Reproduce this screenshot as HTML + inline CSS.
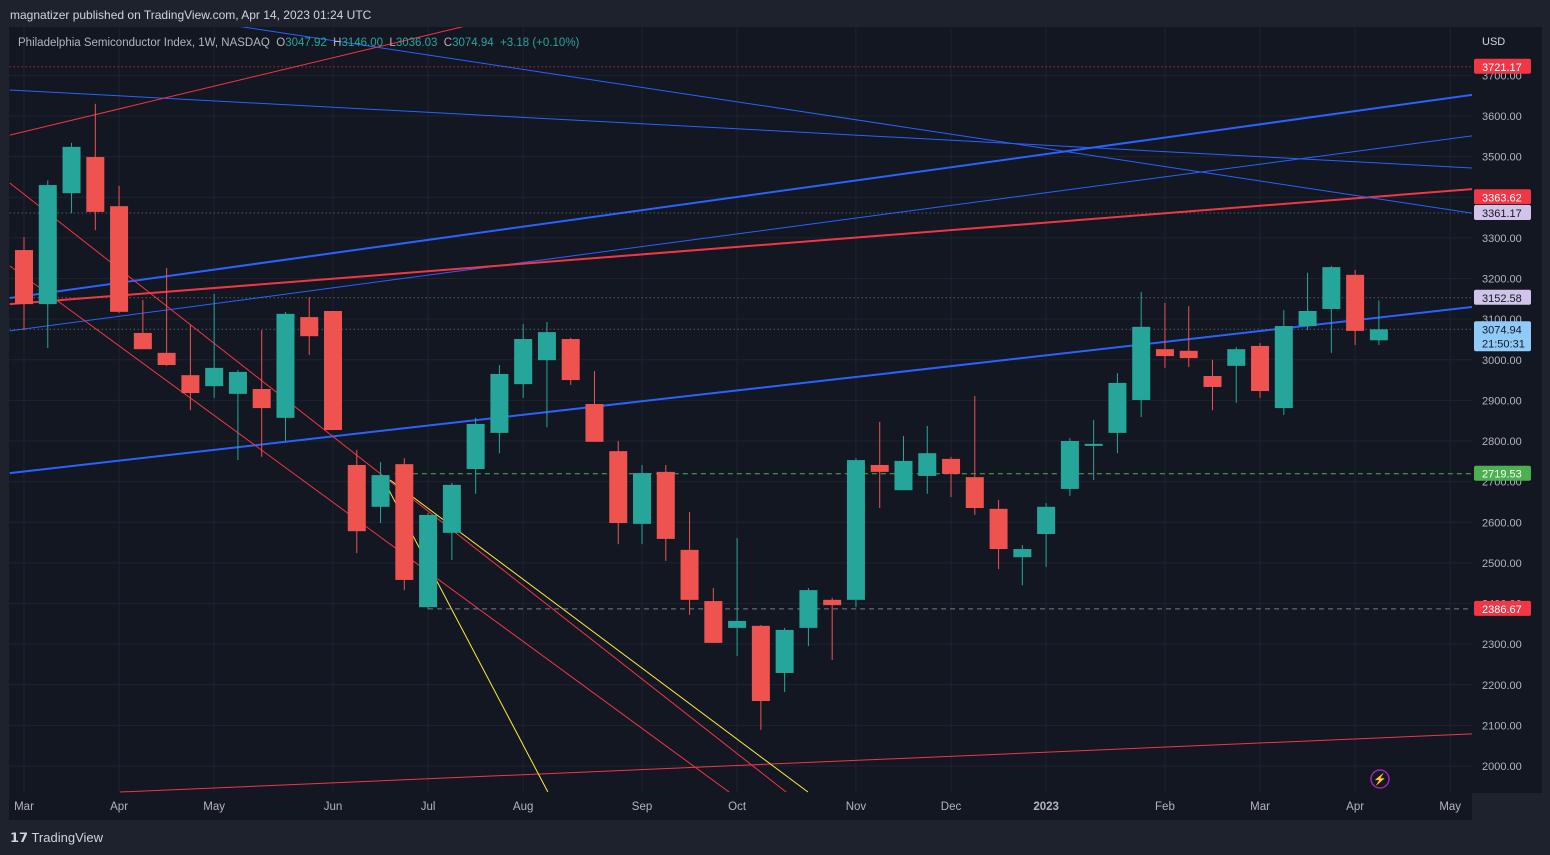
<!DOCTYPE html>
<html><head><meta charset="utf-8"><style>
body{margin:0;width:1550px;height:855px;background:#1e222d;overflow:hidden;font-family:"Liberation Sans",sans-serif}
svg{position:absolute;left:0;top:0}
</style></head><body>
<svg id="c" width="1550" height="855">
<rect x="0" y="0" width="1550" height="855" fill="#1e222d"/>
<rect x="9" y="27" width="1463" height="766" fill="#131722"/>
<rect x="1472" y="27" width="70" height="766" fill="#131722"/>
<rect x="9" y="793" width="1463" height="27" fill="#131722"/>
<g id="grid"></g><g id="draw"></g><g id="candles"></g><g id="labels"></g>
<text x="10" y="19" fill="#d1d4dc" font-size="12">magnatizer published on TradingView.com, Apr 14, 2023 01:24 UTC</text>
<text x="18" y="46" font-size="11.5" fill="#b2b5be" xml:space="preserve">Philadelphia Semiconductor Index, 1W, NASDAQ  O<tspan fill="#26a69a">3047.92</tspan>  H<tspan fill="#26a69a">3146.00</tspan>  L<tspan fill="#26a69a">3036.03</tspan>  C<tspan fill="#26a69a">3074.94</tspan>  <tspan fill="#26a69a">+3.18 (+0.10%)</tspan></text>
<text x="1482" y="45" font-size="11" fill="#d1d4dc">USD</text>
<text x="10" y="842" font-size="13" fill="#d1d4dc">𝟭𝟳 TradingView</text>
<circle cx="1380" cy="779" r="9" fill="none" stroke="#9c27b0" stroke-width="1.5"/>
<text x="1380" y="783" font-size="11" fill="#9c27b0" text-anchor="middle">⚡</text>
</svg>
<script>
const opens=[3270,3137,3410,3499,3378,3066,3017,2962,2935,2916,2928,2857,3105,3120,2741,2638,2743,2391,2574,2731,2820,2940,2999,3051,2891,2775,2596,2724,2532,2406,2340,2345,2229,2340,2409,2409,2741,2679,2714,2756,2711,2633,2514,2571,2682,2788,2820,2901,3026,3022,2960,2985,3034,2881,3083,3125,3209,3047.92];
const highs=[3302,3442,3534,3630,3428,3147,3226,3086,3162,2975,3073,3118,3154,3120,2778,2748,2758,2623,2697,2857,2987,3088,3093,3054,2972,2800,2741,2741,2625,2438,2561,2347,2340,2438,2414,2758,2847,2812,2837,2761,2911,2655,2544,2647,2807,2852,2967,3167,3140,3132,3000,3031,3041,3122,3214,3231,3221,3146];
const lows=[3073,3029,3361,3319,3115,3026,2985,2876,2906,2753,2761,2800,3012,2827,2524,2598,2433,2386,2507,2670,2770,2906,2834,2938,2798,2546,2546,2505,2372,2303,2271,2089,2182,2295,2261,2391,2635,2679,2670,2662,2618,2485,2445,2490,2665,2704,2770,2859,2980,2982,2876,2894,2906,2864,3073,3017,3036,3036.03];
const closes=[3137,3430,3524,3364,3118,3026,2987,2918,2980,2970,2881,3113,3058,2827,2578,2716,2458,2618,2692,2842,2965,3051,3068,2950,2798,2598,2721,2559,2409,2303,2357,2160,2335,2433,2396,2753,2724,2751,2770,2719,2635,2534,2534,2638,2800,2793,2943,3081,3009,3004,2933,3026,2923,3083,3120,3228,3071,3074.94];
const priceTicks=[2000,2100,2200,2300,2400,2500,2600,2700,2800,2900,3000,3100,3200,3300,3400,3500,3600,3700];
const monthLabels=["Mar","Apr","May","Jun","Jul","Aug","Sep","Oct","Nov","Dec","2023","Feb","Mar","Apr","May"];
const monthIdx=[0,4,8,13,17,21,26,30,35,39,43,48,52,56,60];
const NS="http://www.w3.org/2000/svg";
const X=i=>24+i*23.77, Y=p=>116+(3600-p)*0.40625;
function mk(parent,tag,attrs){const e=document.createElementNS(NS,tag);for(const k in attrs)e.setAttribute(k,attrs[k]);document.getElementById(parent).appendChild(e);return e;}
priceTicks.forEach(p=>{
 const l=mk('grid','line',{x1:9,x2:1472,y1:Y(p),y2:Y(p),stroke:'#1f2330'});
 
 
 const t=mk('labels','text',{x:1482,y:Y(p)+4,'font-size':11,fill:'#b2b5be'});t.textContent=p.toFixed(2);
 
 
});
monthLabels.forEach((m,k)=>{
 const x=X(monthIdx[k]);
 const l=mk('grid','line',{x1:x,x2:x,y1:27,y2:793,stroke:'#1f2330'});
 
 
 const t=mk('labels','text',{x:x,y:810,'font-size':11.5,fill:'#b2b5be','text-anchor':'middle','font-weight':m==='2023'?'bold':'normal'});t.textContent=m;
 
 
});
// drawings: [idx1,price1,idx2,price2,color,width]
const drawings=[
[-0.6,3152,60.92,3652,'#2962ff',2],[-0.6,3071,60.92,3551,'#2962ff',1],
[-0.6,3137,60.92,3420,'#f23645',2],[-0.6,3664,60.92,3472,'#2962ff',1],
[8.67,3824,60.92,3361,'#2962ff',1],[-0.6,2721,60.92,3130,'#2962ff',2],
[-0.6,3553,18.76,3824,'#f23645',1],[4.04,1936,60.92,2079,'#f23645',1],
[-0.6,3435,32.06,1936,'#f23645',1],[-0.6,3231,29.66,1936,'#f23645',1],
[15.02,2716,22.04,1936,'#ffeb3b',1],[15.4,2704,32.98,1936,'#ffeb3b',1]];
const svg=document.getElementById('c');
const cp=document.createElementNS(NS,'clipPath');cp.setAttribute('id','cl');
const r=document.createElementNS(NS,'rect');r.setAttribute('x',9);r.setAttribute('y',27);r.setAttribute('width',1463);r.setAttribute('height',766);cp.appendChild(r);svg.appendChild(cp);
document.getElementById('draw').setAttribute('clip-path','url(#cl)');
drawings.forEach(d=>{
 const l=mk('draw','line',{x1:X(d[0]),y1:Y(d[1]),x2:X(d[2]),y2:Y(d[3]),stroke:d[4],'stroke-width':d[5]});
 
 
});
// levels: [price,startIdx,color,dash,labelBg,labelColor,labelPrice]
const levels=[[3721.17,-0.6,'#f23645','1,3','#f23645','#fff',3721.17],[3363.62,null,null,null,'#f23645','#fff',3400],[3361.17,-0.6,'#787b86','1,3','#d1c4e9','#131722',3361.17],[3152.58,-0.6,'#787b86','1,3','#d1c4e9','#131722',3152.58],[3074.94,-0.6,'#787b86','1,3','#90caf9','#131722',3074.94],[2719.53,15.6,'#4caf50','5,4','#4caf50','#fff',2719.53],[2386.67,17,'#787b86','5,4','#f23645','#fff',2386.67]];
levels.forEach(v=>{
 if(v[1]!==null){const l=mk('draw','line',{x1:X(v[1]),x2:1472,y1:Y(v[0]),y2:Y(v[0]),stroke:v[2],'stroke-dasharray':v[3]});
 
 }
 const yy=Y(v[6]);
 const h=v[0]===3074.94?30:15;
 const b=mk('labels','rect',{x:1474,y:yy-8,width:57,height:h,fill:v[4],rx:2});
 
 
 const t=mk('labels','text',{x:1482,y:yy+4,'font-size':11,fill:v[5]});t.textContent=v[0].toFixed(2);
 
 
 if(v[0]===3074.94){const t2=mk('labels','text',{x:1482,y:yy+18,'font-size':11,fill:v[5]});t2.textContent='21:50:31';
 
 }
});
opens.forEach((o,i)=>{
 const c=closes[i],up=c>=o,col=up?'#26a69a':'#ef5350',x=X(i);
 const w=mk('candles','line',{x1:x,x2:x,y1:Y(highs[i]),y2:Y(lows[i]),stroke:col,'stroke-width':1});
 
 
 const top=Y(Math.max(o,c)),bot=Y(Math.min(o,c));
 const b=mk('candles','rect',{x:x-9,y:top,width:18,height:Math.max(1,bot-top),fill:col});
 
 
});
</script>
</body></html>
